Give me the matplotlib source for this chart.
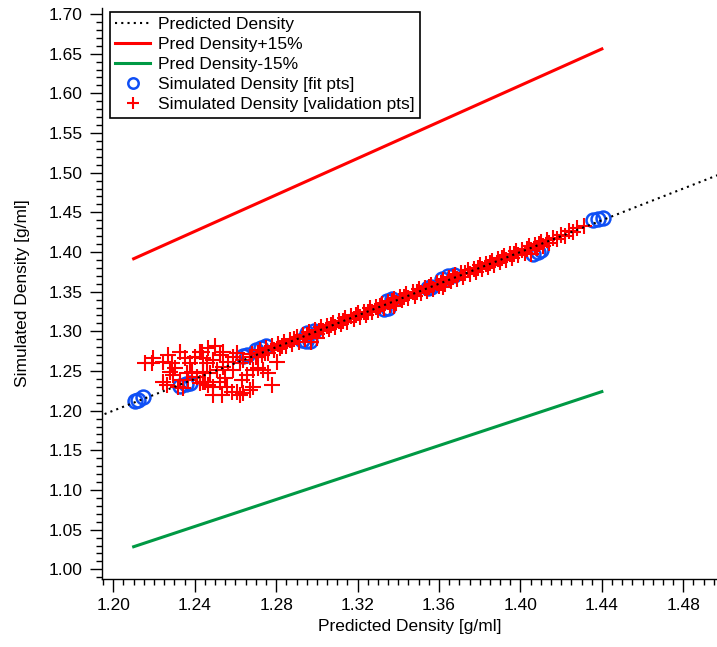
import matplotlib.pyplot as plt
from matplotlib.ticker import MultipleLocator

plt.rcParams['font.family'] = ['Liberation Sans', 'DejaVu Sans']

# Reference line (y = x) and +/-15% bounds
pred_x = [1.19, 1.50]
bound_x = [1.21, 1.44]

# Simulated density, fit points
fit_x = [1.2105, 1.2120, 1.2145, 1.2330, 1.2355, 1.2375, 1.2635, 1.2655, 1.2700, 1.2725,
         1.2750, 1.2925, 1.2945, 1.2965, 1.2950, 1.2985, 1.3330, 1.3350, 1.3345, 1.3370,
         1.3545, 1.3560, 1.3615, 1.3645, 1.3675, 1.4060, 1.4085, 1.4100, 1.4355, 1.4380, 1.4405]
fit_y = [1.2120, 1.2135, 1.2170, 1.2310, 1.2330, 1.2345, 1.2690, 1.2705, 1.2760, 1.2790,
         1.2810, 1.2895, 1.2875, 1.2880, 1.2985, 1.3000, 1.3280, 1.3300, 1.3385, 1.3410,
         1.3545, 1.3560, 1.3660, 1.3695, 1.3710, 1.3975, 1.3995, 1.4030, 1.4405, 1.4420, 1.4435]

# Validation points: scattered cluster at low density
clus_x = [1.2156, 1.2190, 1.2195, 1.2244, 1.2269, 1.2288, 1.2303, 1.2328, 1.2352, 1.2377,
          1.2426, 1.2401, 1.2441, 1.2279, 1.2294, 1.2362, 1.2387, 1.2244, 1.2264, 1.2318,
          1.2342, 1.2367, 1.2411, 1.2426, 1.2450, 1.2441, 1.2328,
          1.2436, 1.2465, 1.2500, 1.2539, 1.2524, 1.2490, 1.2461, 1.2441, 1.2475, 1.2509,
          1.2539, 1.2563, 1.2588, 1.2607, 1.2441, 1.2465, 1.2490, 1.2524, 1.2549, 1.2558,
          1.2583, 1.2607, 1.2632, 1.2657, 1.2686, 1.2711, 1.2735, 1.2760, 1.2779, 1.2686,
          1.2671, 1.2637, 1.2622, 1.2534, 1.2490, 1.2622, 1.2637, 1.2671, 1.2706, 1.2745,
          1.2588, 1.2804]
clus_y = [1.2601, 1.2601, 1.2664, 1.2614, 1.2701, 1.2601, 1.2537, 1.2739, 1.2664, 1.2601,
          1.2739, 1.2676, 1.2664, 1.2487, 1.2450, 1.2475, 1.2487, 1.2361, 1.2323, 1.2298,
          1.2286, 1.2386, 1.2424, 1.2348, 1.2361, 1.2475, 1.2386,
          1.2739, 1.2790, 1.2815, 1.2739, 1.2701, 1.2638, 1.2601, 1.2487, 1.2475, 1.2512,
          1.2550, 1.2614, 1.2676, 1.2727, 1.2361, 1.2323, 1.2298, 1.2361, 1.2411, 1.2298,
          1.2235, 1.2235, 1.2386, 1.2450, 1.2512, 1.2537, 1.2512, 1.2475, 1.2323, 1.2298,
          1.2260, 1.2222, 1.2197, 1.2197, 1.2197, 1.2601, 1.2638, 1.2676, 1.2676, 1.2727,
          1.2512, 1.2614]

# Validation points: tight band along the diagonal
band_x = [1.268, 1.270, 1.272, 1.273, 1.275, 1.276, 1.278, 1.279, 1.281, 1.282,
          1.284, 1.285, 1.287, 1.288, 1.290, 1.291, 1.293, 1.294, 1.296, 1.297,
          1.299, 1.300, 1.302, 1.303, 1.305, 1.306, 1.308, 1.309, 1.311, 1.312,
          1.314, 1.315, 1.317, 1.318, 1.320, 1.321, 1.323, 1.324, 1.326, 1.327,
          1.329, 1.330, 1.332, 1.333, 1.335, 1.336, 1.338, 1.339, 1.341, 1.342,
          1.344, 1.345, 1.347, 1.348, 1.350, 1.351, 1.353, 1.354, 1.356, 1.357,
          1.359, 1.360, 1.362, 1.363, 1.365, 1.366, 1.368, 1.369, 1.371, 1.372,
          1.374, 1.375, 1.377, 1.378, 1.380, 1.381, 1.383, 1.384, 1.386, 1.387,
          1.389, 1.390, 1.392, 1.393, 1.395, 1.396, 1.398, 1.399, 1.401, 1.402,
          1.404, 1.405, 1.407, 1.408, 1.410, 1.411, 1.413, 1.414, 1.416, 1.418,
          1.420, 1.422, 1.424, 1.426, 1.428, 1.431,
          1.271, 1.283, 1.289, 1.295, 1.301, 1.307, 1.313, 1.319, 1.325, 1.331,
          1.337, 1.343, 1.349, 1.355, 1.361, 1.367, 1.373, 1.379, 1.385, 1.391,
          1.397, 1.403, 1.409, 1.297, 1.300, 1.338, 1.405, 1.362]
band_y = [1.271, 1.268, 1.276, 1.270, 1.279, 1.273, 1.281, 1.276, 1.284, 1.279,
          1.286, 1.281, 1.289, 1.284, 1.293, 1.287, 1.295, 1.290, 1.299, 1.293,
          1.302, 1.297, 1.305, 1.300, 1.307, 1.303, 1.311, 1.306, 1.313, 1.309,
          1.317, 1.312, 1.319, 1.315, 1.323, 1.318, 1.325, 1.321, 1.329, 1.324,
          1.331, 1.327, 1.335, 1.330, 1.337, 1.333, 1.341, 1.336, 1.343, 1.339,
          1.347, 1.342, 1.349, 1.345, 1.353, 1.348, 1.355, 1.351, 1.359, 1.354,
          1.361, 1.357, 1.365, 1.360, 1.367, 1.363, 1.371, 1.366, 1.373, 1.369,
          1.377, 1.372, 1.379, 1.375, 1.383, 1.378, 1.385, 1.381, 1.389, 1.384,
          1.391, 1.387, 1.395, 1.390, 1.397, 1.393, 1.401, 1.396, 1.403, 1.399,
          1.407, 1.402, 1.409, 1.405, 1.412, 1.408, 1.415, 1.411, 1.418, 1.416,
          1.422, 1.420, 1.426, 1.425, 1.430, 1.433,
          1.273, 1.282, 1.290, 1.296, 1.300, 1.308, 1.313, 1.320, 1.325, 1.332,
          1.338, 1.343, 1.350, 1.356, 1.361, 1.368, 1.374, 1.380, 1.386, 1.392,
          1.398, 1.404, 1.410, 1.286, 1.292, 1.332, 1.398, 1.356]

val_x = clus_x + band_x
val_y = clus_y + band_y

fig = plt.figure(figsize=(7.17, 6.47), dpi=100)
ax = fig.add_axes([102 / 717, 68 / 647, 615 / 717, 571 / 647])

ax.plot(bound_x, [v * 1.15 for v in bound_x], color='#FF0000', lw=2.2,
        label='Pred Density+15%', zorder=2)
ax.plot(bound_x, [v * 0.85 for v in bound_x], color='#009944', lw=2.2,
        label='Pred Density-15%', zorder=2)
ax.plot(fit_x, fit_y, ls='none', marker='o', ms=10, mfc='none', mec='#0F4FF5',
        mew=1.8, label='Simulated Density [fit pts]', zorder=3)
ax.plot(val_x, val_y, ls='none', marker='+', ms=11, mec='#FF0000', mew=1.5,
        label='Simulated Density [validation pts]', zorder=4)
ax.plot(pred_x, pred_x, color='black', lw=1.5, ls=(0, (1, 2)),
        label='Predicted Density', zorder=5)

ax.set_xlim(1.19445, 1.49656)
ax.set_ylim(0.9878, 1.7076)

ax.xaxis.set_major_locator(MultipleLocator(0.04))
ax.xaxis.set_minor_locator(MultipleLocator(0.005))
ax.yaxis.set_major_locator(MultipleLocator(0.05))
ax.yaxis.set_minor_locator(MultipleLocator(0.01))
ax.xaxis.set_major_formatter(lambda v, p: f'{v:.2f}')
ax.yaxis.set_major_formatter(lambda v, p: f'{v:.2f}')

for s in ['top', 'right']:
    ax.spines[s].set_visible(False)
for s in ['left', 'bottom']:
    ax.spines[s].set_linewidth(1.0)

ax.tick_params(which='major', direction='out', length=9, width=1.0, labelsize=12.5, pad=5)
ax.tick_params(which='minor', direction='out', length=4.5, width=1.0)

ax.set_xlabel('Predicted Density [g/ml]', fontsize=12.5, labelpad=4)
ax.set_ylabel('Simulated Density [g/ml]', fontsize=12.5, labelpad=13)

handles, labels = ax.get_legend_handles_labels()
order = [4, 0, 1, 2, 3]
leg = ax.legend([handles[i] for i in order], [labels[i] for i in order],
                loc='upper left', bbox_to_anchor=(0.013, 0.993), borderaxespad=0,
                fontsize=12.5, frameon=True, fancybox=False, framealpha=1,
                edgecolor='black', handlelength=2.0, handletextpad=0.45,
                labelspacing=0.28, borderpad=0.3, markerscale=0.75)
leg.get_frame().set_linewidth(1.2)

plt.savefig('out.png', dpi=100)
